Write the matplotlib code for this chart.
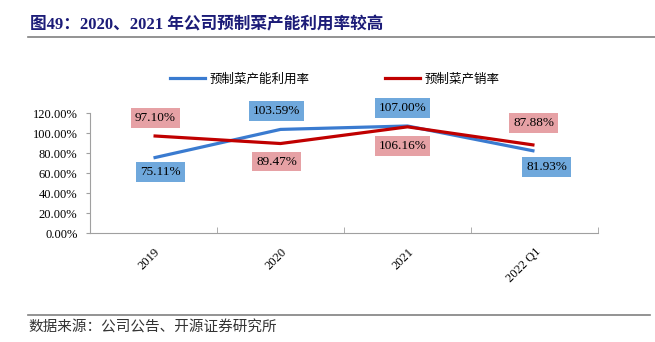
import matplotlib.pyplot as plt
from matplotlib.lines import Line2D

categories = ['2019', '2020', '2021', '2022 Q1']
capacity_util = [75.11, 103.59, 107.00, 81.93]   # 预制菜产能利用率
sales_rate = [97.10, 89.47, 106.16, 87.88]       # 预制菜产销率

serif = ['Liberation Serif', 'Noto Sans CJK SC']
cjk = ['Noto Sans CJK SC', 'DejaVu Sans']

blue = '#3a7bd0'
blue_box = '#6fa8dc'
red = '#c00000'
red_box = '#e6a1a5'

fig = plt.figure(figsize=(6.55, 3.42), dpi=100)
ax = fig.add_axes([90 / 655, 1 - 233 / 342, 508 / 655, 120 / 342])

x = range(len(categories))
ax.plot(x, capacity_util, color=blue, lw=2.3, solid_capstyle='butt')
ax.plot(x, sales_rate, color=red, lw=2.3, solid_capstyle='butt')

ax.set_xlim(-0.5, 3.5)
ax.set_ylim(0, 120)
ax.set_yticks(range(0, 121, 20))
ax.set_yticklabels(['%.2f%%' % v for v in range(0, 121, 20)], family=serif, fontsize=9)
ax.set_xticks(list(x))
ax.set_xticklabels(categories, rotation=45, family=serif, fontsize=9, ha='right',
                   rotation_mode='anchor')
ax.tick_params(axis='x', length=0, pad=9)
ax.set_xticks([0.5, 1.5, 2.5, 3.5], minor=True)
ax.tick_params(axis='x', which='minor', direction='in', length=4, color='#a0a0a0')
ax.tick_params(axis='y', length=3, color='#a0a0a0', pad=6)

for s in ['top', 'right']:
    ax.spines[s].set_visible(False)
for s in ['left', 'bottom']:
    ax.spines[s].set_color('#a0a0a0')

# data labels (offsets in pixels)
blue_off = [(7, -14), (-4, 18), (-5, 18), (12, -16)]
red_off = [(2, 18), (-4, -18), (-5, -19), (-1, 22)]
for i, v in enumerate(capacity_util):
    ax.annotate('%.2f%%' % v, (i, v), xytext=blue_off[i], textcoords='offset pixels',
                ha='center', va='center', family=serif, fontsize=9.5,
                bbox=dict(boxstyle='square,pad=0.3', fc=blue_box, ec='none'))
for i, v in enumerate(sales_rate):
    ax.annotate('%.2f%%' % v, (i, v), xytext=red_off[i], textcoords='offset pixels',
                ha='center', va='center', family=serif, fontsize=9.5,
                bbox=dict(boxstyle='square,pad=0.3', fc=red_box, ec='none'))

handles = [Line2D([], [], color=blue, lw=2.3), Line2D([], [], color=red, lw=2.3)]
fig.legend(handles, ['预制菜产能利用率', '预制菜产销率'], loc='center',
           bbox_to_anchor=(335 / 655, 1 - 79 / 342), ncol=2, frameon=False,
           prop={'family': cjk, 'size': 9}, handlelength=2.8, handletextpad=0.4,
           columnspacing=6)

fig.text(30 / 655, 1 - 25 / 342, '图49：2020、2021 年公司预制菜产能利用率较高',
         family=serif, fontsize=12, fontweight='bold', color='#1c1c78', va='center')
fig.add_artist(Line2D([28 / 655, 1], [1 - 37 / 342] * 2, color='#808080', lw=1.2))
fig.add_artist(Line2D([28 / 655, 650 / 655], [1 - 315 / 342] * 2, color='#808080', lw=1.2))
fig.text(28 / 655, 1 - 328 / 342, '数据来源：公司公告、开源证券研究所',
         family=cjk, fontsize=10.5, color='#333333', va='center')

fig.savefig('out.png', dpi=100)
